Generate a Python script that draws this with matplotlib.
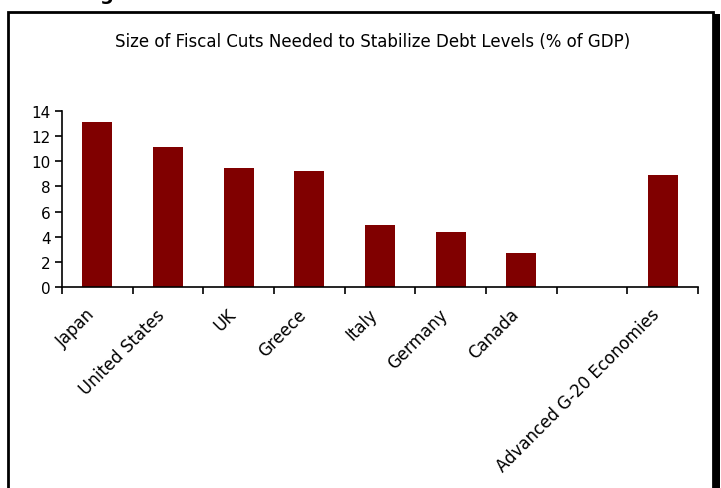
import matplotlib.pyplot as plt
from matplotlib.patches import Rectangle

countries = ["Japan", "United States", "UK", "Greece", "Italy", "Germany",
             "Canada", "", "Advanced G-20 Economies"]
cuts = [13.1, 11.1, 9.5, 9.2, 4.9, 4.4, 2.7, 0.0, 8.9]
yticks = [0, 2, 4, 6, 8, 10, 12, 14]

W, H = 721, 489
fig = plt.figure(figsize=(W / 100, H / 100), dpi=100)
fig.patch.set_facecolor("white")

# frame around the chart (thin left/top, heavy shadow on the right)
fig.patches.append(Rectangle((8 / W, -0.05), (705 / W), (1 - 13 / H) + 0.05,
                             transform=fig.transFigure, fill=False,
                             edgecolor="black", linewidth=2))
fig.patches.append(Rectangle((713 / W, -0.05), 7 / W, (1 - 15 / H) + 0.05,
                             transform=fig.transFigure, facecolor="black",
                             edgecolor="none"))

# clipped bold heading above the frame (only the descender shows)
fig.text(106 / W, 1 + 0 / H, "g", fontsize=14, fontweight="bold",
         ha="center", va="baseline")

ax = fig.add_axes([62 / W, 1 - 288 / H, 636 / W, 176 / H])
x = list(range(len(countries)))
ax.bar(x, cuts, width=0.42, color="#800000")
ax.set_xlim(-0.5, len(countries) - 0.5)
ax.set_ylim(0, 14)
ax.set_yticks(yticks)
ax.set_yticklabels([str(v) for v in yticks], fontsize=11)

# tick marks sit between categories, labels slightly left of bar centres
ax.set_xticks([i - 0.5 for i in range(len(countries) + 1)])
ax.set_xticklabels([])
ax.set_xticks([i - 0.17 for i in x], minor=True)
ax.set_xticklabels(countries, minor=True, rotation=45, ha="right",
                   rotation_mode="anchor", fontsize=12)
ax.tick_params(axis="x", which="minor", length=0, pad=13)
ax.tick_params(axis="x", which="major", length=5, width=1.2)
ax.tick_params(axis="y", length=5, width=1.2, pad=3)

for s in ["top", "right"]:
    ax.spines[s].set_visible(False)
ax.spines["left"].set_linewidth(1.2)
ax.spines["bottom"].set_linewidth(1.2)

fig.text(373 / W, 1 - 42 / H,
         "Size of Fiscal Cuts Needed to Stabilize Debt Levels (% of GDP)",
         fontsize=12, ha="center", va="center")

fig.savefig("out.png", dpi=100)
